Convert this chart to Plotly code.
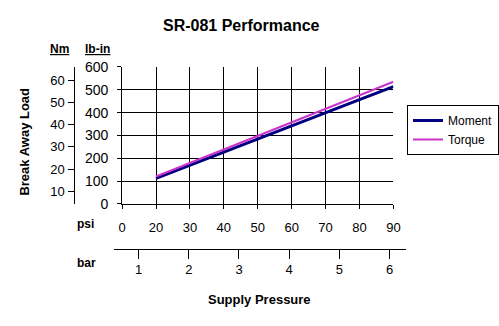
import plotly.graph_objects as go

W, H = 499, 326

psi_categories = ["0", "20", "30", "40", "50", "60", "70", "80", "90"]
series_x = ["20", "30", "40", "50", "60", "70", "80", "90"]
moment = [112, 170, 227, 285, 342, 400, 457, 514]
torque = [120, 179, 238, 298, 357, 416, 476, 535]
lbin_ticks = [0, 100, 200, 300, 400, 500, 600]
nm_ticks = [10, 20, 30, 40, 50, 60]
bar_ticks = [1, 2, 3, 4, 5, 6]

FONT = "Arial, 'Liberation Sans', sans-serif"

def px(x):
    return x / W

def py(y):
    return 1 - y / H

fig = go.Figure()
fig.add_trace(go.Scatter(x=series_x, y=moment, name="Moment", mode="lines",
                         line=dict(color="#000080", width=3)))
fig.add_trace(go.Scatter(x=series_x, y=torque, name="Torque", mode="lines",
                         line=dict(color="#CC33CC", width=2)))
fig.add_trace(go.Scatter(x=bar_ticks, y=[0]*len(bar_ticks), xaxis="x2", yaxis="y3",
                         mode="markers", marker=dict(opacity=0), showlegend=False,
                         hoverinfo="skip"))
fig.add_trace(go.Scatter(x=["0"], y=[10], xaxis="x", yaxis="y2", mode="markers",
                         marker=dict(opacity=0), showlegend=False, hoverinfo="skip"))

fig.update_layout(
    width=W, height=H,
    margin=dict(l=0, r=0, t=0, b=0),
    paper_bgcolor="white", plot_bgcolor="white",
    font=dict(family=FONT, color="black", size=13),
    xaxis=dict(
        type="category", categoryorder="array", categoryarray=psi_categories,
        range=[0, 8], domain=[px(121), px(399)], anchor="y",
        showgrid=True, gridcolor="black", gridwidth=1,
        showline=True, linecolor="black", linewidth=1,
        ticks="outside", ticklen=4, tickcolor="black",
        ticklabelstandoff=8, tickfont=dict(size=13),
        zeroline=False, fixedrange=True,
    ),
    yaxis=dict(
        range=[0, 600], tickvals=lbin_ticks, domain=[py(206), py(62)],
        anchor="x",
        showgrid=True, gridcolor="black", gridwidth=1,
        showline=True, linecolor="black", linewidth=1,
        ticks="outside", ticklen=4, tickcolor="black",
        ticklabelstandoff=6, tickfont=dict(size=14),
        zeroline=False, fixedrange=True,
    ),
    yaxis2=dict(
        overlaying="y", anchor="free", position=px(72), side="left",
        range=[4.3, 66.0], tickvals=nm_ticks,
        showgrid=False, showline=True, linecolor="black", linewidth=1,
        ticks="outside", ticklen=6, tickcolor="black",
        ticklabelstandoff=1, tickfont=dict(size=13),
        zeroline=False, fixedrange=True,
    ),
    xaxis2=dict(
        domain=[px(113), px(412)], anchor="y3",
        range=[0.514, 6.331], tickvals=bar_ticks,
        showgrid=False, showline=True, linecolor="black", linewidth=1,
        ticks="outside", ticklen=9, tickcolor="black",
        ticklabelstandoff=0, tickfont=dict(size=13),
        zeroline=False, fixedrange=True,
    ),
    yaxis3=dict(
        domain=[py(253), py(240)], anchor="x2", range=[0, 1],
        visible=False, fixedrange=True,
    ),
    legend=dict(
        x=px(413), y=py(102), xanchor="left", yanchor="top",
        bordercolor="black", borderwidth=1, bgcolor="white",
        font=dict(size=12), itemwidth=30, tracegroupgap=0,
    ),
    showlegend=True,
)

annos = [
    dict(text="<b>SR-081 Performance</b>", x=px(243), y=py(18), size=16),
    dict(text="<b><u>Nm</u></b>", x=px(57), y=py(43), size=12),
    dict(text="<b><u>lb-in</u></b>", x=px(96), y=py(43), size=12),
    dict(text="<b>psi</b>", x=px(83), y=py(227), size=12),
    dict(text="<b>bar</b>", x=px(85), y=py(268), size=12),
    dict(text="<b>Supply Pressure</b>", x=px(262), y=py(307), size=13),
]
for a in annos:
    fig.add_annotation(text=a["text"], x=a["x"], y=a["y"], xref="paper", yref="paper",
                       showarrow=False, xanchor="center", yanchor="middle",
                       font=dict(size=a["size"], family=FONT, color="black"))
fig.add_annotation(text="<b>Break Away Load</b>", x=px(21), y=py(140),
                   xref="paper", yref="paper", showarrow=False, textangle=-90,
                   xanchor="center", yanchor="middle",
                   font=dict(size=13, family=FONT, color="black"))

fig.write_html("out.html")
